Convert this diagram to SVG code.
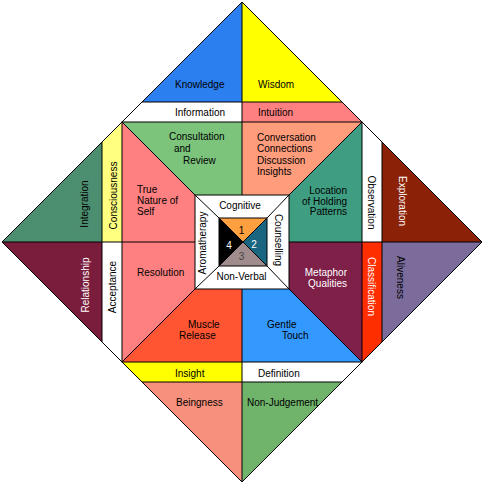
<svg xmlns="http://www.w3.org/2000/svg" width="484" height="484" viewBox="0 0 484 484">
<style>
  text { font-family: "Liberation Sans", Arial, sans-serif; font-size: 10px; fill: #000; }
  .w { fill: #fff; }
  .m { text-anchor: middle; }
  .e { text-anchor: end; }
  .ln { stroke: #000; stroke-width: 1; fill: none; }
</style>
<rect x="0" y="0" width="484" height="484" fill="#fff"/>
<g id="knowledge"><polygon points="242,2 142,102 242,102" fill="#2C7FEF"/><text x="175" y="87.5">Knowledge</text></g>
<g id="wisdom"><polygon points="242,2 242,102 342,102" fill="#FFFF00"/><text x="258" y="87.5">Wisdom</text></g>
<g id="information"><polygon points="142,102 242,102 242,122 122,122" fill="#FFFFFF"/><text x="175" y="116">Information</text></g>
<g id="intuition"><polygon points="242,102 342,102 362,122 242,122" fill="#FF8080"/><text x="258" y="116">Intuition</text></g>
<g id="integration"><polygon points="2,242 102,142 102,242" fill="#4C8E70"/><text transform="translate(88,204) rotate(-90)" class="m">Integration</text></g>
<g id="relationship"><polygon points="2,242 102,242 102,342" fill="#7A1C3C"/><text transform="translate(88.5,285) rotate(-90)" class="m w">Relationship</text></g>
<g id="consciousness"><polygon points="102,142 122,122 122,242 102,242" fill="#FFFF80"/><text transform="translate(117,195.5) rotate(-90)" class="m">Consciousness</text></g>
<g id="acceptance"><polygon points="102,242 122,242 122,362 102,342" fill="#FFFFFF"/><text transform="translate(115.5,287) rotate(-90)" class="m">Acceptance</text></g>
<g id="exploration"><polygon points="482,242 382,142 382,242" fill="#8B2208"/><text transform="translate(399,201) rotate(90)" class="m w">Exploration</text></g>
<g id="aliveness"><polygon points="482,242 382,242 382,342" fill="#7C6C9C"/><text transform="translate(397,277.5) rotate(90)" class="m">Aliveness</text></g>
<g id="observation"><polygon points="362,122 382,142 382,242 362,242" fill="#FFFFFF"/><text transform="translate(368,202.5) rotate(90)" class="m">Observation</text></g>
<g id="classification"><polygon points="362,242 382,242 382,342 362,362" fill="#FF2E00"/><text transform="translate(368,286.5) rotate(90)" class="m w">Classification</text></g>
<g id="insight"><polygon points="122,362 242,362 242,382 142,382" fill="#FFFF00"/><text x="175" y="377">Insight</text></g>
<g id="definition"><polygon points="242,362 362,362 342,382 242,382" fill="#FFFFFF"/><text x="258" y="377">Definition</text></g>
<g id="beingness"><polygon points="142,382 242,382 242,482" fill="#F8907E"/><text x="176" y="406">Beingness</text></g>
<g id="non-judgement"><polygon points="242,382 342,382 242,482" fill="#70B46C"/><text x="247" y="406">Non-Judgement</text></g>
<g id="consultation"><polygon points="122,122 242,122 242,195 195,195" fill="#7CC47C"/><text x="169" y="140">Consultation</text><text x="174" y="152">and</text><text x="183" y="164">Review</text></g>
<g id="conversation"><polygon points="242,122 362,122 289,195 242,195" fill="#FF9C7C"/><text x="257" y="141">Conversation</text><text x="257" y="152">Connections</text><text x="257" y="164">Discussion</text><text x="257" y="175">Insights</text></g>
<g id="location"><polygon points="362,122 362,242 289,242 289,195" fill="#3F9E82"/><text x="347" y="194" class="e">Location</text><text x="347" y="205" class="e">of Holding</text><text x="347" y="215" class="e">Patterns</text></g>
<g id="metaphor"><polygon points="289,242 362,242 362,362 289,289" fill="#7E2048"/><text x="347" y="276" class="e w">Metaphor</text><text x="347" y="287" class="e w">Qualities</text></g>
<g id="gentle-touch"><polygon points="242,289 289,289 362,362 242,362" fill="#3399FF"/><text x="267" y="328">Gentle</text><text x="282" y="339">Touch</text></g>
<g id="muscle-release"><polygon points="122,362 195,289 242,289 242,362" fill="#FF5533"/><text x="188" y="328">Muscle</text><text x="179" y="339">Release</text></g>
<g id="resolution"><polygon points="122,242 195,242 195,289 122,362" fill="#FF8080"/><text x="137" y="276">Resolution</text></g>
<g id="true-nature"><polygon points="122,122 195,195 195,242 122,242" fill="#FF8080"/><text x="137" y="193">True</text><text x="137" y="204">Nature of</text><text x="137" y="215">Self</text></g>
<g id="centre-frame"><rect x="195" y="195" width="94" height="94" fill="#FFFFFF"/>
<text x="240" y="209" class="m">Cognitive</text>
<text x="241.5" y="280" class="m">Non-Verbal</text>
<text transform="translate(206,243) rotate(-90)" class="m">Aromatherapy</text>
<text transform="translate(275,240) rotate(90)" class="m">Counselling</text></g>
<g id="q1"><polygon points="219,218 267,218 243,242" fill="#FFA040"/><text x="241.5" y="234" class="m">1</text></g>
<g id="q2"><polygon points="267,218 267,266 243,242" fill="#1A6680"/><text x="254" y="248" class="m w">2</text></g>
<g id="q3"><polygon points="219,266 267,266 243,242" fill="#A08C8C"/><text x="241.5" y="260" class="m" style="fill:#444">3</text></g>
<g id="q4"><polygon points="219,218 219,266 243,242" fill="#000000"/><text x="229" y="249" class="m w">4</text></g>
<g id="connectors" class="ln">
<polygon points="242,2 482,242 242,482 2,242"/>
<rect x="122" y="122" width="240" height="240"/>
<line x1="142" y1="102" x2="342" y2="102"/>
<line x1="142" y1="382" x2="342" y2="382"/>
<line x1="102" y1="142" x2="102" y2="342"/>
<line x1="382" y1="142" x2="382" y2="342"/>
<line x1="242" y1="2" x2="242" y2="195"/>
<line x1="242" y1="289" x2="242" y2="482"/>
<line x1="2" y1="242" x2="195" y2="242"/>
<line x1="289" y1="242" x2="482" y2="242"/>
<line x1="122" y1="122" x2="195" y2="195"/>
<line x1="362" y1="122" x2="289" y2="195"/>
<line x1="362" y1="362" x2="289" y2="289"/>
<line x1="122" y1="362" x2="195" y2="289"/>
<rect x="195" y="195" width="94" height="94"/>
<line x1="195" y1="195" x2="219" y2="218"/>
<line x1="289" y1="195" x2="267" y2="218"/>
<line x1="289" y1="289" x2="267" y2="266"/>
<line x1="195" y1="289" x2="219" y2="266"/>
<rect x="219" y="218" width="48" height="48"/>
<line x1="219" y1="218" x2="267" y2="266"/>
<line x1="267" y1="218" x2="219" y2="266"/>
</g>
</svg>
